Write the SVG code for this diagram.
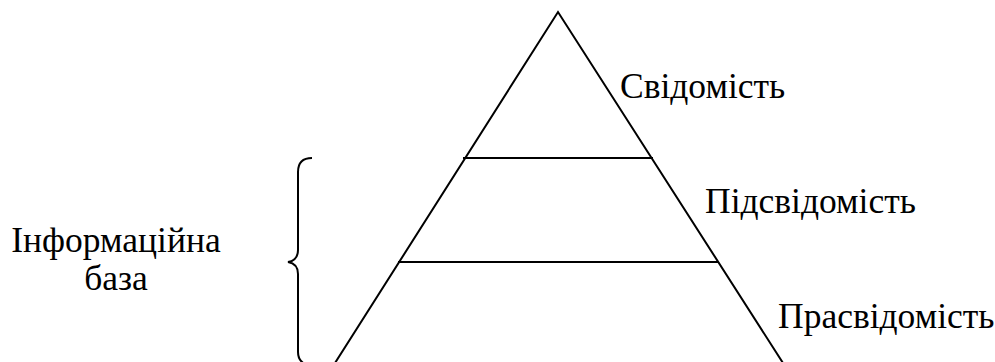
<svg xmlns="http://www.w3.org/2000/svg" width="995" height="362" viewBox="0 0 995 362">
<rect width="995" height="362" fill="#fff"/>
<g id="connectors" stroke="#000" stroke-width="2" fill="none">
<path d="M335,363 L558,12 L783,363"/>
<line x1="463" y1="158" x2="653" y2="158"/>
<line x1="398" y1="262" x2="718" y2="262"/>
<path id="brace" d="M312,158 C303,158 298,162 298,172 L298,250 C298,257 294,261 288,262 C294,263 298,267 298,274 L298,352 C298,360 302,364 310,366"/>
</g>
<g id="svidomist"><text x="620" y="98" font-family="Liberation Serif" font-size="35.5">Свідомість</text></g>
<g id="pidsvidomist"><text x="705" y="213" font-family="Liberation Serif" font-size="35.5">Підсвідомість</text></g>
<g id="prasvidomist"><text x="778" y="328" font-family="Liberation Serif" font-size="35.5">Прасвідомість</text></g>
<g id="infobaza">
<text x="116" y="252" text-anchor="middle" font-family="Liberation Serif" font-size="35.5">Інформаційна</text>
<text x="116" y="290" text-anchor="middle" font-family="Liberation Serif" font-size="35.5">база</text>
</g>
</svg>
